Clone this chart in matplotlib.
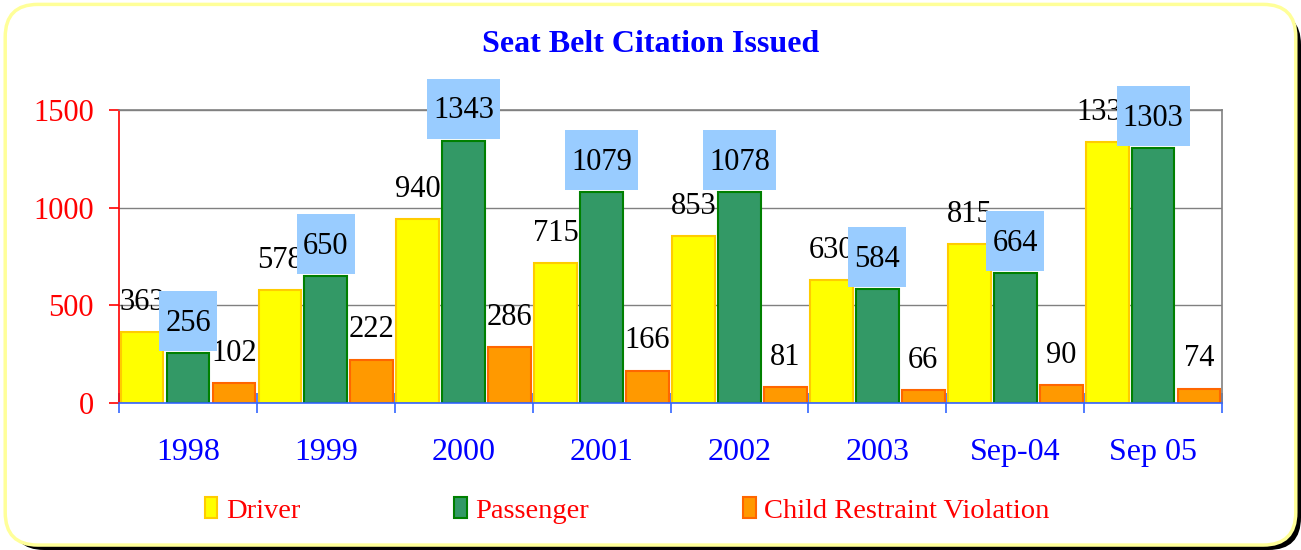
import numpy as np
import matplotlib.pyplot as plt
from matplotlib.patches import FancyBboxPatch, Rectangle, Patch

years = ['1998', '1999', '2000', '2001', '2002', '2003', 'Sep-04', 'Sep 05']
driver = [363, 578, 940, 715, 853, 630, 815, 1337]
passenger = [256, 650, 1343, 1079, 1078, 584, 664, 1303]
child = [102, 222, 286, 166, 81, 66, 90, 74]

plt.rcParams['font.family'] = ['Liberation Serif', 'DejaVu Serif']

fig = plt.figure(figsize=(13.01, 5.5), dpi=100)

# rounded frame with black shadow
fig.patches.append(FancyBboxPatch((0.009, 0.0), 0.991, 0.978,
                                  boxstyle='round,pad=0,rounding_size=0.025',
                                  transform=fig.transFigure, facecolor='black',
                                  edgecolor='none', zorder=-2, mutation_aspect=2.37))
fig.patches.append(FancyBboxPatch((0.004, 0.009), 0.992, 0.983,
                                  boxstyle='round,pad=0,rounding_size=0.025',
                                  transform=fig.transFigure, facecolor='white',
                                  edgecolor='#FFFF99', linewidth=2.5, zorder=-1,
                                  mutation_aspect=2.37))

ax = fig.add_axes([0.0915, 0.2673, 0.8478, 0.5327])
ax.set_facecolor('none')

x = np.arange(len(years))
w = 0.31
step = 1 / 3
ax.bar(x - step, driver, w, color='#FFFF00', edgecolor='#FFCC00', linewidth=1.5, zorder=2)
ax.bar(x, passenger, w, color='#339966', edgecolor='#008000', linewidth=1.5, zorder=2)
ax.bar(x + step, child, w, color='#FF9900', edgecolor='#FF6600', linewidth=1.5, zorder=2)

ax.set_xlim(-0.5, len(years) - 0.5)
ax.set_ylim(0, 1500)
ax.set_yticks([0, 500, 1000, 1500])
ax.yaxis.grid(True, color='#808080', linewidth=1, zorder=0)
ax.set_axisbelow(True)

# labels
for xs, vals in [(x - step, driver), (x + step, child)]:
    for xi, v in zip(xs, vals):
        ax.annotate(str(v), (xi, v), xytext=(0, 16), textcoords='offset points',
                    ha='center', va='baseline', fontsize=22, color='black',
                    zorder=3, annotation_clip=False)

p_texts = []
for xi, v in zip(x, passenger):
    t = ax.annotate(str(v), (xi, v), xytext=(0, 16), textcoords='offset points',
                    ha='center', va='baseline', fontsize=22, color='black',
                    zorder=5, annotation_clip=False)
    p_texts.append(t)

# spines and ticks
ax.spines['left'].set_color('red')
ax.spines['bottom'].set_color('#3366FF')
ax.spines['top'].set_color('#808080')
ax.spines['right'].set_color('#808080')
for s in ax.spines.values():
    s.set_linewidth(1.2)

ax.tick_params(axis='y', colors='red', labelsize=22, length=7, width=1.2, direction='out', pad=11)
ax.set_xticks(x)
ax.set_xticklabels(years)
ax.set_xticks(np.arange(-0.5, len(years)), minor=True)
ax.tick_params(axis='x', which='major', length=0, labelsize=23, labelcolor='#0000FF', pad=25)
ax.tick_params(axis='x', which='minor', length=14, width=1.2, direction='inout', color='#3366FF')

fig.text(0.5, 0.92, 'Seat Belt Citation Issued', ha='center', va='center',
         fontsize=23, fontweight='bold', color='#0000FF')

handles = [Patch(facecolor='#FFFF00', edgecolor='#FFCC00', linewidth=1.5),
           Patch(facecolor='#339966', edgecolor='#008000', linewidth=1.5),
           Patch(facecolor='#FF9900', edgecolor='#FF6600', linewidth=1.5)]
leg = fig.legend(handles, ['Driver', 'Passenger', 'Child Restraint Violation'],
                 loc='center', bbox_to_anchor=(0.482, 0.072), ncol=3, frameon=False,
                 fontsize=20.5, handlelength=0.45, handleheight=0.75, handletextpad=0.3,
                 columnspacing=5.4)
for t in leg.get_texts():
    t.set_color('red')

# light blue boxes behind the passenger labels, sized to the text
fig.canvas.draw()
inv = ax.transData.inverted()
for t, xi, v in zip(p_texts, x, passenger):
    bb = t.get_window_extent()
    _, ybar = ax.transData.transform((xi, v))
    (x0, y0), (x1, y1) = inv.transform([(bb.x0 - 6, ybar + 2), (bb.x1 + 6, ybar + 62)])
    ax.add_patch(Rectangle((x0, y0), x1 - x0, y1 - y0, facecolor='#99CCFF',
                           edgecolor='none', zorder=4, clip_on=False))

fig.savefig('out.png', dpi=100)
